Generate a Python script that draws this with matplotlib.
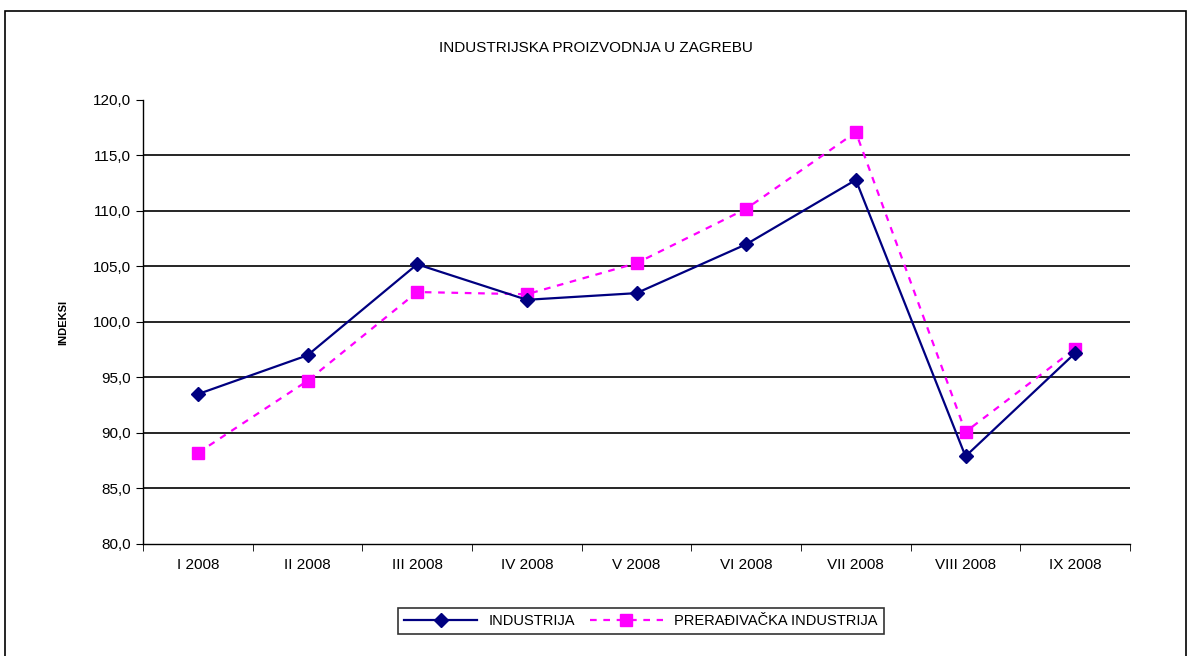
import numpy as np
import matplotlib.pyplot as plt
from matplotlib.patches import Rectangle

plt.rcParams['font.family'] = ['Liberation Sans', 'DejaVu Sans']

# DATA
months = ["I 2008", "II 2008", "III 2008", "IV 2008", "V 2008",
          "VI 2008", "VII 2008", "VIII 2008", "IX 2008"]
industrija = [93.5, 97.0, 105.2, 102.0, 102.6, 107.0, 112.8, 87.9, 97.2]
preradjivacka = [88.2, 94.7, 102.7, 102.5, 105.3, 110.2, 117.1, 90.1, 97.6]
yticks = [80, 85, 90, 95, 100, 105, 110, 115, 120]

fig = plt.figure(figsize=(11.92, 6.56), dpi=100)
ax = fig.add_axes([143/1192, 1 - 544/656, (1130-143)/1192, (544-100)/656])

# outer frame of the chart
fig.patches.append(Rectangle((5/1192, -0.05), (1186-5)/1192, 1.05 - 11/656,
                             transform=fig.transFigure, fill=False,
                             edgecolor='black', linewidth=1.2))

x = np.arange(len(months))
for yv in yticks[1:-1]:
    ax.axhline(yv, color='black', linewidth=1.2, zorder=1)

ax.plot(x, industrija, color='#000080', linewidth=1.6, marker='D',
        markersize=7, label='INDUSTRIJA', zorder=3)
ax.plot(x, preradjivacka, color='#FF00FF', linewidth=1.6, linestyle=(0, (3, 3)),
        marker='s', markersize=9, label='PRERAĐIVAČKA INDUSTRIJA', zorder=2)

ax.set_xlim(-0.5, len(months) - 0.5)
ax.set_ylim(80, 120)
ax.set_yticks(yticks)
ax.set_yticklabels([f"{v:.1f}".replace('.', ',') for v in yticks], fontsize=11)
ax.set_xticks(x)
ax.set_xticklabels(months, fontsize=11)
ax.set_xticks(np.arange(-0.5, len(months)), minor=True)
ax.tick_params(axis='x', which='major', length=0, pad=10)
ax.tick_params(axis='x', which='minor', length=5, direction='out')
ax.tick_params(axis='y', length=5, direction='out')

for s in ['top', 'right']:
    ax.spines[s].set_visible(False)
ax.spines['left'].set_linewidth(1.0)
ax.spines['bottom'].set_linewidth(1.0)

ax.set_ylabel("INDEKSI", fontsize=8, fontweight='bold', labelpad=18)
fig.text(0.5, 1 - 48/656, "INDUSTRIJSKA PROIZVODNJA U ZAGREBU",
         ha='center', va='center', fontsize=11)

leg = fig.legend(loc='center', bbox_to_anchor=(641/1192, 1 - 621/656), ncol=2,
                 fontsize=10.5, frameon=True, fancybox=False, edgecolor='black',
                 handlelength=5, columnspacing=1.0, borderpad=0.4)
leg.get_frame().set_linewidth(1.2)

fig.savefig("out.png", dpi=100)
